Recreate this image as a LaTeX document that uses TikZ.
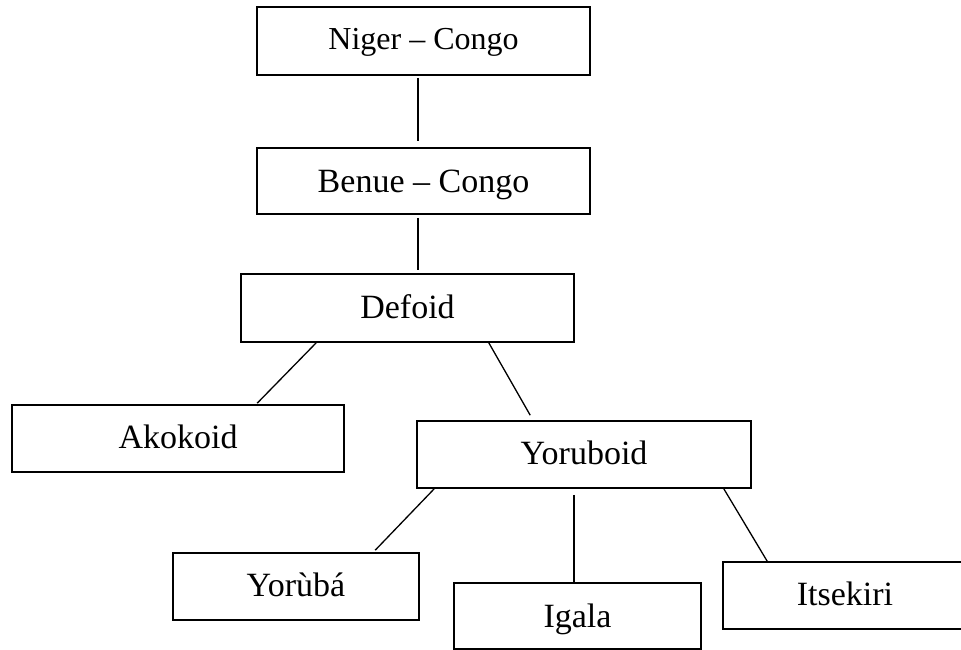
\documentclass[tikz,border=0pt]{standalone}
\usepackage{fontspec}
\setmainfont{Liberation Serif}
\tikzset{
  box/.style={draw=black, line width=1.6pt, rectangle, inner sep=0pt,
    font=\fontsize{34}{40}\selectfont, text height=22pt, text depth=2pt},
  link/.style={draw=black, line width=1.3pt}
}
\begin{document}
\begin{tikzpicture}[x=1pt,y=-1pt]
\useasboundingbox (0,0) rectangle (961,650);
\fill[white] (0,0) rectangle (961,650);
\clip (0,0) rectangle (961,650);
\node[box, minimum width=333pt, minimum height=68pt, font=\fontsize{32}{38}\selectfont, text height=20pt] (niger) at (423.5,41) {Niger – Congo};
\node[box, minimum width=333pt, minimum height=66pt, text height=23pt, text depth=0pt] (benue) at (423.5,181) {Benue – Congo};
\node[box, minimum width=333pt, minimum height=68pt] (defoid) at (407.5,308) {Defoid};
\node[box, minimum width=332pt, minimum height=67pt] (akokoid) at (178,438.5) {Akokoid};
\node[box, minimum width=334pt, minimum height=67pt] (yoruboid) at (584,454.5) {Yoruboid};
\node[box, minimum width=246pt, minimum height=67pt] (yoruba) at (296,586.5) {Yorùbá};
\node[box, minimum width=247pt, minimum height=66pt, text height=23pt, text depth=0pt] (igala) at (577.5,616) {Igala};
\node[box, minimum width=244pt, minimum height=67pt] (itsekiri) at (845,595.5) {Itsekiri};
\draw[link] ([xshift=-5.5pt,yshift=-2pt]niger.south) -- ([xshift=-5.5pt,yshift=6pt]benue.north);
\draw[link] ([xshift=-5.5pt,yshift=-3pt]benue.south) -- ([xshift=10.5pt,yshift=3pt]defoid.north);
\draw[link] ([xshift=76pt]defoid.south west) -- ([xshift=246pt,yshift=1pt]akokoid.north west);
\draw[link] ([xshift=-86pt]defoid.south east) -- ([xshift=114pt,yshift=5pt]yoruboid.north west);
\draw[link] ([xshift=18pt]yoruboid.south west) -- ([xshift=203pt,yshift=2pt]yoruba.north west);
\draw[link] ([xshift=-10pt,yshift=-6pt]yoruboid.south) -- ([xshift=-3.5pt]igala.north);
\draw[link] ([xshift=-28pt]yoruboid.south east) -- ([xshift=45pt]itsekiri.north west);
\end{tikzpicture}
\end{document}
